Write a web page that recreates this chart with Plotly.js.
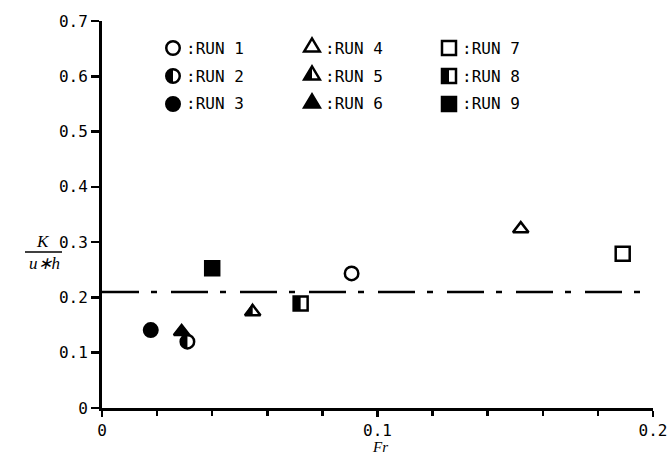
<!DOCTYPE html>
<html><head><meta charset="utf-8">
<script src="https://cdn.plot.ly/plotly-3.0.1.min.js"></script>
<style>body{margin:0;background:#fff}#chart{width:672px;height:457px}</style>
</head><body><div id="chart"></div>
<script>
// ---- data ----
const runs = ['RUN 1','RUN 2','RUN 3','RUN 4','RUN 5','RUN 6','RUN 7','RUN 8','RUN 9'];
const fr    = [0.0906, 0.031, 0.0177, 0.152, 0.0547, 0.0289, 0.189, 0.0721, 0.040];
const kNorm = [0.2435, 0.120, 0.141, 0.324, 0.174, 0.138, 0.279, 0.189, 0.253];
const symbolKind = ['circle','circle','circle','triangle','triangle','triangle','square','square','square'];
const fillKind   = ['open','half','full','open','half','full','open','half','full'];
const refLevel = [0.21, 0.21];
const refFr = [0, 0.198];
const xTickVals = [0, 0.1, 0.2];
const yTickVals = [0, 0.1, 0.2, 0.3, 0.4, 0.5, 0.6, 0.7];

// ---- geometry (plot area pixels) ----
const W = 672, H = 457;
const M = {l: 102, r: 19, t: 21, b: 49};
const PW = W - M.l - M.r, PH = H - M.t - M.b;
const px2paperX = p => (p - M.l) / PW;
const px2paperY = p => (H - M.b - p) / PH;

const SZ = {circle: 13.5, triangle: 13.5, square: 14};
const LW = 2.5;
const k = 0.5523;

function halfPath(kind, s) {
  if (kind === 'circle') {
    const r = s / 2, c = k * r;
    return `M 0,${r} C ${-c},${r} ${-r},${c} ${-r},0 C ${-r},${-c} ${-c},${-r} 0,${-r} Z`;
  }
  if (kind === 'triangle') {
    const r = s / 2, rt = r * 2 / Math.sqrt(3), r2 = r / 2, rs = r * Math.sqrt(2);
    return `M ${-rt},${-r2} L 0,${rs} L 0,${-r2} Z`;
  }
  const h = s / 2;
  return `M ${-h},${-h} L 0,${-h} L 0,${h} L ${-h},${h} Z`;
}
function fullPath(kind, s) {
  if (kind === 'circle') {
    const r = s / 2, c = k * r;
    return `M 0,${r} C ${-c},${r} ${-r},${c} ${-r},0 C ${-r},${-c} ${-c},${-r} 0,${-r} C ${c},${-r} ${r},${-c} ${r},0 C ${r},${c} ${c},${r} 0,${r} Z`;
  }
  if (kind === 'triangle') {
    const r = s / 2, rt = r * 2 / Math.sqrt(3), r2 = r / 2, rs = r * Math.sqrt(2);
    return `M ${-rt},${-r2} L 0,${rs} L ${rt},${-r2} Z`;
  }
  const h = s / 2;
  return `M ${-h},${-h} L ${h},${-h} L ${h},${h} L ${-h},${h} Z`;
}

const traces = [];
const shapes = [];
const annotations = [];

// reference dash-dot line
traces.push({
  x: refFr, y: refLevel, mode: 'lines', showlegend: false, hoverinfo: 'skip',
  line: {color: '#000', width: 2.5, dash: '37px,12px,6px,14px'}
});

// data points
runs.forEach((name, i) => {
  const kind = symbolKind[i];
  const sym = kind === 'triangle' ? 'triangle-up' : kind;
  traces.push({
    x: [fr[i]], y: [kNorm[i]], mode: 'markers', name: name, showlegend: false,
    marker: {symbol: sym, size: SZ[kind], color: fillKind[i] === 'full' ? '#000' : '#fff',
             line: {color: '#000', width: LW}}
  });
  if (fillKind[i] === 'half') {
    shapes.push({type: 'path', xref: 'x', yref: 'y', xsizemode: 'pixel', ysizemode: 'pixel',
      xanchor: fr[i], yanchor: kNorm[i], path: halfPath(kind, SZ[kind]),
      fillcolor: '#000', line: {width: 0}});
  }
});

// manual legend (3 x 3 grid)
const legColX = [173, 312, 449];
const legRowY = [48, 76, 104];
runs.forEach((name, i) => {
  const col = Math.floor(i / 3), row = i % 3;
  const kind = symbolKind[i];
  const ax = px2paperX(legColX[col]), ay = px2paperY(legRowY[row]);
  shapes.push({type: 'path', xref: 'paper', yref: 'paper', xsizemode: 'pixel', ysizemode: 'pixel',
    xanchor: ax, yanchor: ay, path: fullPath(kind, SZ[kind]),
    fillcolor: fillKind[i] === 'full' ? '#000' : '#fff', line: {color: '#000', width: LW}});
  if (fillKind[i] === 'half') {
    shapes.push({type: 'path', xref: 'paper', yref: 'paper', xsizemode: 'pixel', ysizemode: 'pixel',
      xanchor: ax, yanchor: ay, path: halfPath(kind, SZ[kind]),
      fillcolor: '#000', line: {width: 0}});
  }
  annotations.push({xref: 'paper', yref: 'paper', x: px2paperX(legColX[col] + 11), y: ay,
    xanchor: 'left', yanchor: 'middle', showarrow: false, text: ':' + name,
    font: {family: 'DejaVu Sans Mono, monospace', size: 16, color: '#000'}});
});

// y-axis title as a fraction
annotations.push({xref: 'paper', yref: 'paper', x: px2paperX(43), y: px2paperY(241),
  xanchor: 'center', yanchor: 'middle', showarrow: false, text: '<i>K</i>',
  font: {family: 'Liberation Serif, serif', size: 17, color: '#000'}});
annotations.push({xref: 'paper', yref: 'paper', x: px2paperX(44), y: px2paperY(263),
  xanchor: 'center', yanchor: 'middle', showarrow: false, text: '<i>u∗h</i>',
  font: {family: 'Liberation Serif, serif', size: 17, color: '#000'}});
shapes.push({type: 'line', xref: 'paper', yref: 'paper',
  x0: px2paperX(25), x1: px2paperX(62), y0: px2paperY(252), y1: px2paperY(252),
  line: {color: '#000', width: 1.5}});

// x-axis title
annotations.push({xref: 'paper', yref: 'paper', x: px2paperX(380), y: px2paperY(447),
  xanchor: 'center', yanchor: 'middle', showarrow: false, text: '<i>Fr</i>',
  font: {family: 'Liberation Serif, serif', size: 15, color: '#000'}});

const tickFont = {family: 'DejaVu Sans Mono, monospace', size: 16, color: '#000'};
const layout = {
  width: W, height: H, margin: M,
  paper_bgcolor: '#fff', plot_bgcolor: '#fff', showlegend: false,
  xaxis: {range: [0, 0.2], tickvals: xTickVals, ticktext: xTickVals.map(v => v === 0 ? '0' : String(v)),
    showgrid: false, zeroline: false, showline: true, linecolor: '#000', linewidth: 3,
    ticks: 'outside', ticklen: 6, tickwidth: 2.5, tickcolor: '#000', tickfont: tickFont,
    minor: {dtick: 0.02, tick0: 0, ticks: 'outside', ticklen: 5, tickwidth: 2.5, tickcolor: '#000', showgrid: false}},
  yaxis: {range: [0, 0.7], tickvals: yTickVals, ticktext: yTickVals.map(v => v === 0 ? '0' : v.toFixed(1)),
    showgrid: false, zeroline: false, showline: true, linecolor: '#000', linewidth: 3,
    ticks: 'outside', ticklen: 8, tickwidth: 2.5, tickcolor: '#000', tickfont: tickFont},
  shapes: shapes, annotations: annotations
};
Plotly.newPlot('chart', traces, layout, {displayModeBar: false, staticPlot: true});
</script></body></html>
